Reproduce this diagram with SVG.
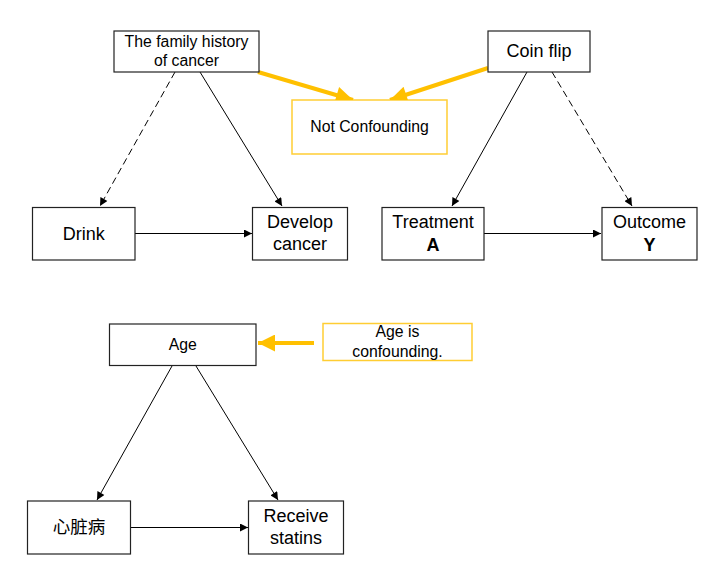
<svg xmlns="http://www.w3.org/2000/svg" width="727" height="575" viewBox="0 0 727 575">
<style>
.box{fill:#fff;stroke:#222;stroke-width:1.2}
.ybox{fill:#fff;stroke:#ffc000;stroke-width:1.5;stroke-opacity:0.8}
.t{font-family:"Liberation Sans",Arial,sans-serif;fill:#000;text-anchor:middle}
.big{font-size:18px}
.small{font-size:15.8px}
.cjk{font-family:"Noto Sans CJK SC","Liberation Sans",sans-serif;font-size:17.5px;fill:#000;text-anchor:middle}
.edge{stroke:#000;stroke-width:1;fill:none;marker-end:url(#ah)}
.dash{stroke-dasharray:7,4}
.yedge{stroke:#ffc000;stroke-width:4;fill:none;marker-end:url(#yah)}
</style>
<defs>
<marker id="ah" markerUnits="userSpaceOnUse" viewBox="0 0 10 10" refX="10" refY="5" markerWidth="9" markerHeight="8" orient="auto">
<path d="M0,0 L10,5 L0,10 z" fill="#000"/>
</marker>
<marker id="yah" markerUnits="userSpaceOnUse" viewBox="0 0 10 10" refX="10" refY="5" markerWidth="20" markerHeight="17" orient="auto">
<path d="M0,0 L10,5 L0,10 z" fill="#ffc000"/>
</marker>
</defs>
<rect width="727" height="575" fill="#fff"/>
<g id="connectors">
<line class="edge dash" x1="175" y1="72" x2="100" y2="206"/>
<line class="edge" x1="200" y1="72" x2="282" y2="206"/>
<line class="edge" x1="135" y1="233.5" x2="252" y2="233.5"/>
<line class="edge" x1="527" y1="72" x2="452" y2="206"/>
<line class="edge dash" x1="552" y1="72" x2="632" y2="206"/>
<line class="edge" x1="484" y1="233.5" x2="601" y2="233.5"/>
<line class="edge" x1="172" y1="366" x2="97" y2="500"/>
<line class="edge" x1="196" y1="366" x2="278" y2="500"/>
<line class="edge" x1="131" y1="527.5" x2="248" y2="527.5"/>
<line class="yedge" x1="258" y1="72" x2="353" y2="100"/>
<line class="yedge" x1="488" y1="68" x2="390" y2="100"/>
<line class="yedge" x1="314" y1="343" x2="258" y2="343"/>
</g>
<g id="family">
<rect class="box" x="114" y="31" width="145" height="41"/>
<text class="t small" x="186.5" y="47">The family history</text>
<text class="t small" x="186.5" y="65.5">of cancer</text>
</g>
<g id="notconf">
<rect class="ybox" x="292" y="100" width="155" height="54"/>
<text class="t small" x="369.5" y="131.5">Not Confounding</text>
</g>
<g id="coin">
<rect class="box" x="488" y="31" width="102" height="41"/>
<text class="t big" x="539" y="57">Coin flip</text>
</g>
<g id="drink">
<rect class="box" x="32.5" y="207.5" width="102.5" height="52.5"/>
<text class="t big" x="83.7" y="240">Drink</text>
</g>
<g id="develop">
<rect class="box" x="252.5" y="207.5" width="95" height="52.5"/>
<text class="t big" x="300" y="227.5">Develop</text>
<text class="t big" x="300" y="250">cancer</text>
</g>
<g id="treatment">
<rect class="box" x="382" y="207.5" width="102" height="52.5"/>
<text class="t big" x="433" y="227.5">Treatment</text>
<text class="t big" x="433" y="250.5" font-weight="bold">A</text>
</g>
<g id="outcome">
<rect class="box" x="602" y="207.5" width="95" height="52.5"/>
<text class="t big" x="649.5" y="227.5">Outcome</text>
<text class="t big" x="649.5" y="250.5" font-weight="bold">Y</text>
</g>
<g id="age">
<rect class="box" x="109.5" y="324" width="146.5" height="41.5"/>
<text class="t small" x="182.7" y="349.5">Age</text>
</g>
<g id="ageconf">
<rect class="ybox" x="323" y="323.5" width="149" height="37"/>
<text class="t small" x="397.5" y="337">Age is</text>
<text class="t small" x="397.5" y="357">confounding.</text>
</g>
<g id="heart">
<rect class="box" x="27.5" y="501" width="103" height="53"/>
<text class="cjk" x="79" y="533">心脏病</text>
</g>
<g id="statins">
<rect class="box" x="248.5" y="501" width="95" height="53"/>
<text class="t big" x="296" y="522">Receive</text>
<text class="t big" x="296" y="543.5">statins</text>
</g>
</svg>
